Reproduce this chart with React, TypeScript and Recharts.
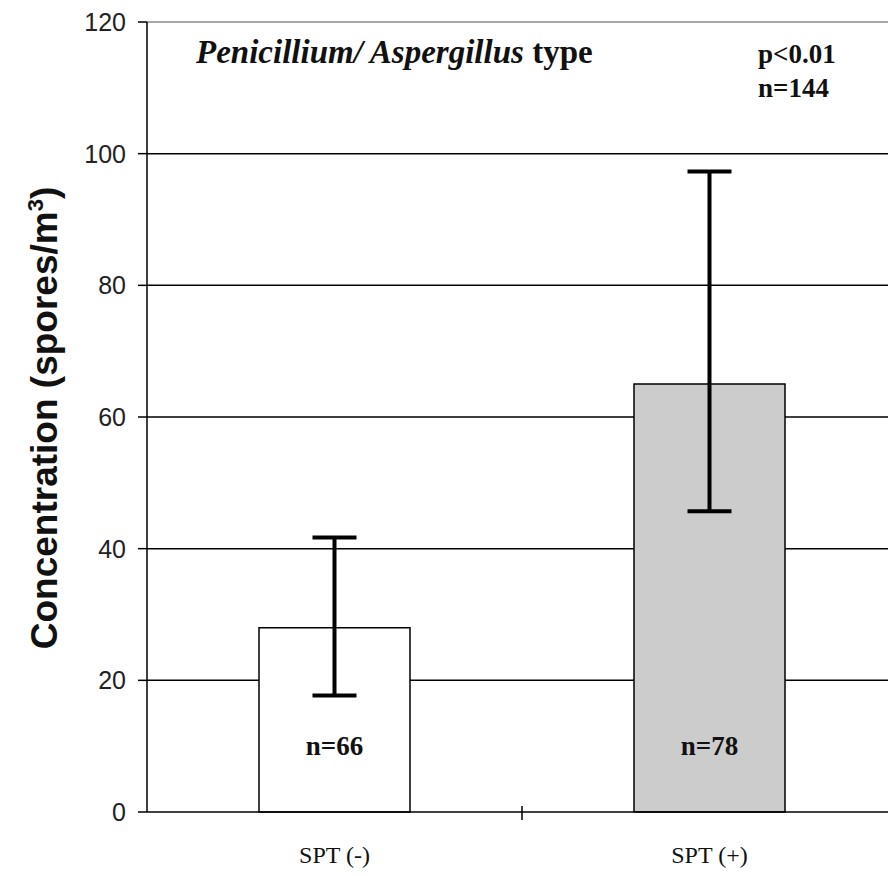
import React from "react";
import { BarChart, Bar, Cell, XAxis, YAxis, CartesianGrid, ErrorBar, LabelList, ReferenceLine, Customized } from "recharts";

// values
const groups = ["SPT (-)", "SPT (+)"];
const means = [28, 65];
const errLow = [10.3, 19.3];
const errHigh = [13.7, 32.3];
const counts = ["n=66", "n=78"];
const fills = ["#ffffff", "#cccccc"];
const yTicks = [0, 20, 40, 60, 80, 100, 120];
const gridValues = [20, 40, 60, 80, 100];

const data = groups.map((g, i) => ({
    group: g,
    mean: means[i],
    err: [errLow[i], errHigh[i]],
    n: counts[i],
}));

const SERIF = "'Liberation Serif', 'Times New Roman', serif";
const SANS = "'Liberation Sans', Arial, sans-serif";

// category label + boundary tick between the two groups
const GroupTick = (props: any) => {
    const { x, y, payload } = props;
    const half = payload?.offset ?? 0;
    return (
        <g>
            {payload.index > 0 && (
                <line x1={x - half} y1={y - 6} x2={x - half} y2={y + 8} stroke="#000" strokeWidth={1.5} />
            )}
            <text x={x} y={y + 51} textAnchor="middle" fontFamily={SERIF} fontSize={24} fill="#111">
                {payload.value}
            </text>
        </g>
    );
};

// title, stats and y axis title
const Annotations = () => (
    <g>
        <text x={196} y={63} fontFamily={SERIF} fontWeight="bold" fontSize={33} fill="#111">
            <tspan fontStyle="italic">Penicillium/ Aspergillus</tspan>
            <tspan> type</tspan>
        </text>
        <text x={758} y={63} fontFamily={SERIF} fontWeight="bold" fontSize={27} fill="#111">p&lt;0.01</text>
        <text x={758} y={97} fontFamily={SERIF} fontWeight="bold" fontSize={27} fill="#111">n=144</text>
        <text
            x={57}
            y={418}
            transform="rotate(-90, 57, 418)"
            textAnchor="middle"
            fontFamily={SANS}
            fontWeight="bold"
            fontSize={37}
            fill="#111"
        >
            Concentration (spores/m
            <tspan dy={-14} fontSize={22}>3</tspan>
            <tspan dy={14}>)</tspan>
        </text>
    </g>
);

export default function App() {
    return (
        <div style={{ position: "absolute", left: 0, top: 0, background: "#fff" }}>
            <BarChart
                width={888}
                height={876}
                data={data}
                margin={{ top: 22, right: -9, bottom: 0, left: 0 }}
            >
                <CartesianGrid
                    vertical={false}
                    horizontalValues={gridValues}
                    stroke="#000"
                    strokeWidth={1.5}
                />
                <ReferenceLine y={120} stroke="#8a8a8a" strokeWidth={1.5} />
                <XAxis
                    dataKey="group"
                    height={64}
                    axisLine={{ stroke: "#000", strokeWidth: 1.5 }}
                    tickLine={false}
                    tickSize={0}
                    tickMargin={0}
                    tick={<GroupTick />}
                    interval={0}
                />
                <YAxis
                    width={147}
                    domain={[0, 120]}
                    ticks={yTicks}
                    interval={0}
                    axisLine={{ stroke: "#000", strokeWidth: 1.5 }}
                    tickLine={{ stroke: "#000", strokeWidth: 1.5 }}
                    tickSize={9}
                    tickMargin={12}
                    tick={{ fontFamily: SANS, fontSize: 25, fill: "#222" }}
                />
                <Bar
                    dataKey="mean"
                    barSize={151}
                    stroke="#000"
                    strokeWidth={1.5}
                    isAnimationActive={false}
                >
                    {data.map((d, i) => (
                        <Cell key={d.group} fill={fills[i]} />
                    ))}
                    <LabelList
                        dataKey="n"
                        position="insideBottom"
                        offset={57}
                        fontFamily={SERIF}
                        fontWeight="bold"
                        fontSize={27}
                        fill="#111"
                    />
                    <ErrorBar dataKey="err" direction="y" width={22} strokeWidth={4} stroke="#000" />
                </Bar>
                <Customized component={Annotations} />
            </BarChart>
        </div>
    );
}
